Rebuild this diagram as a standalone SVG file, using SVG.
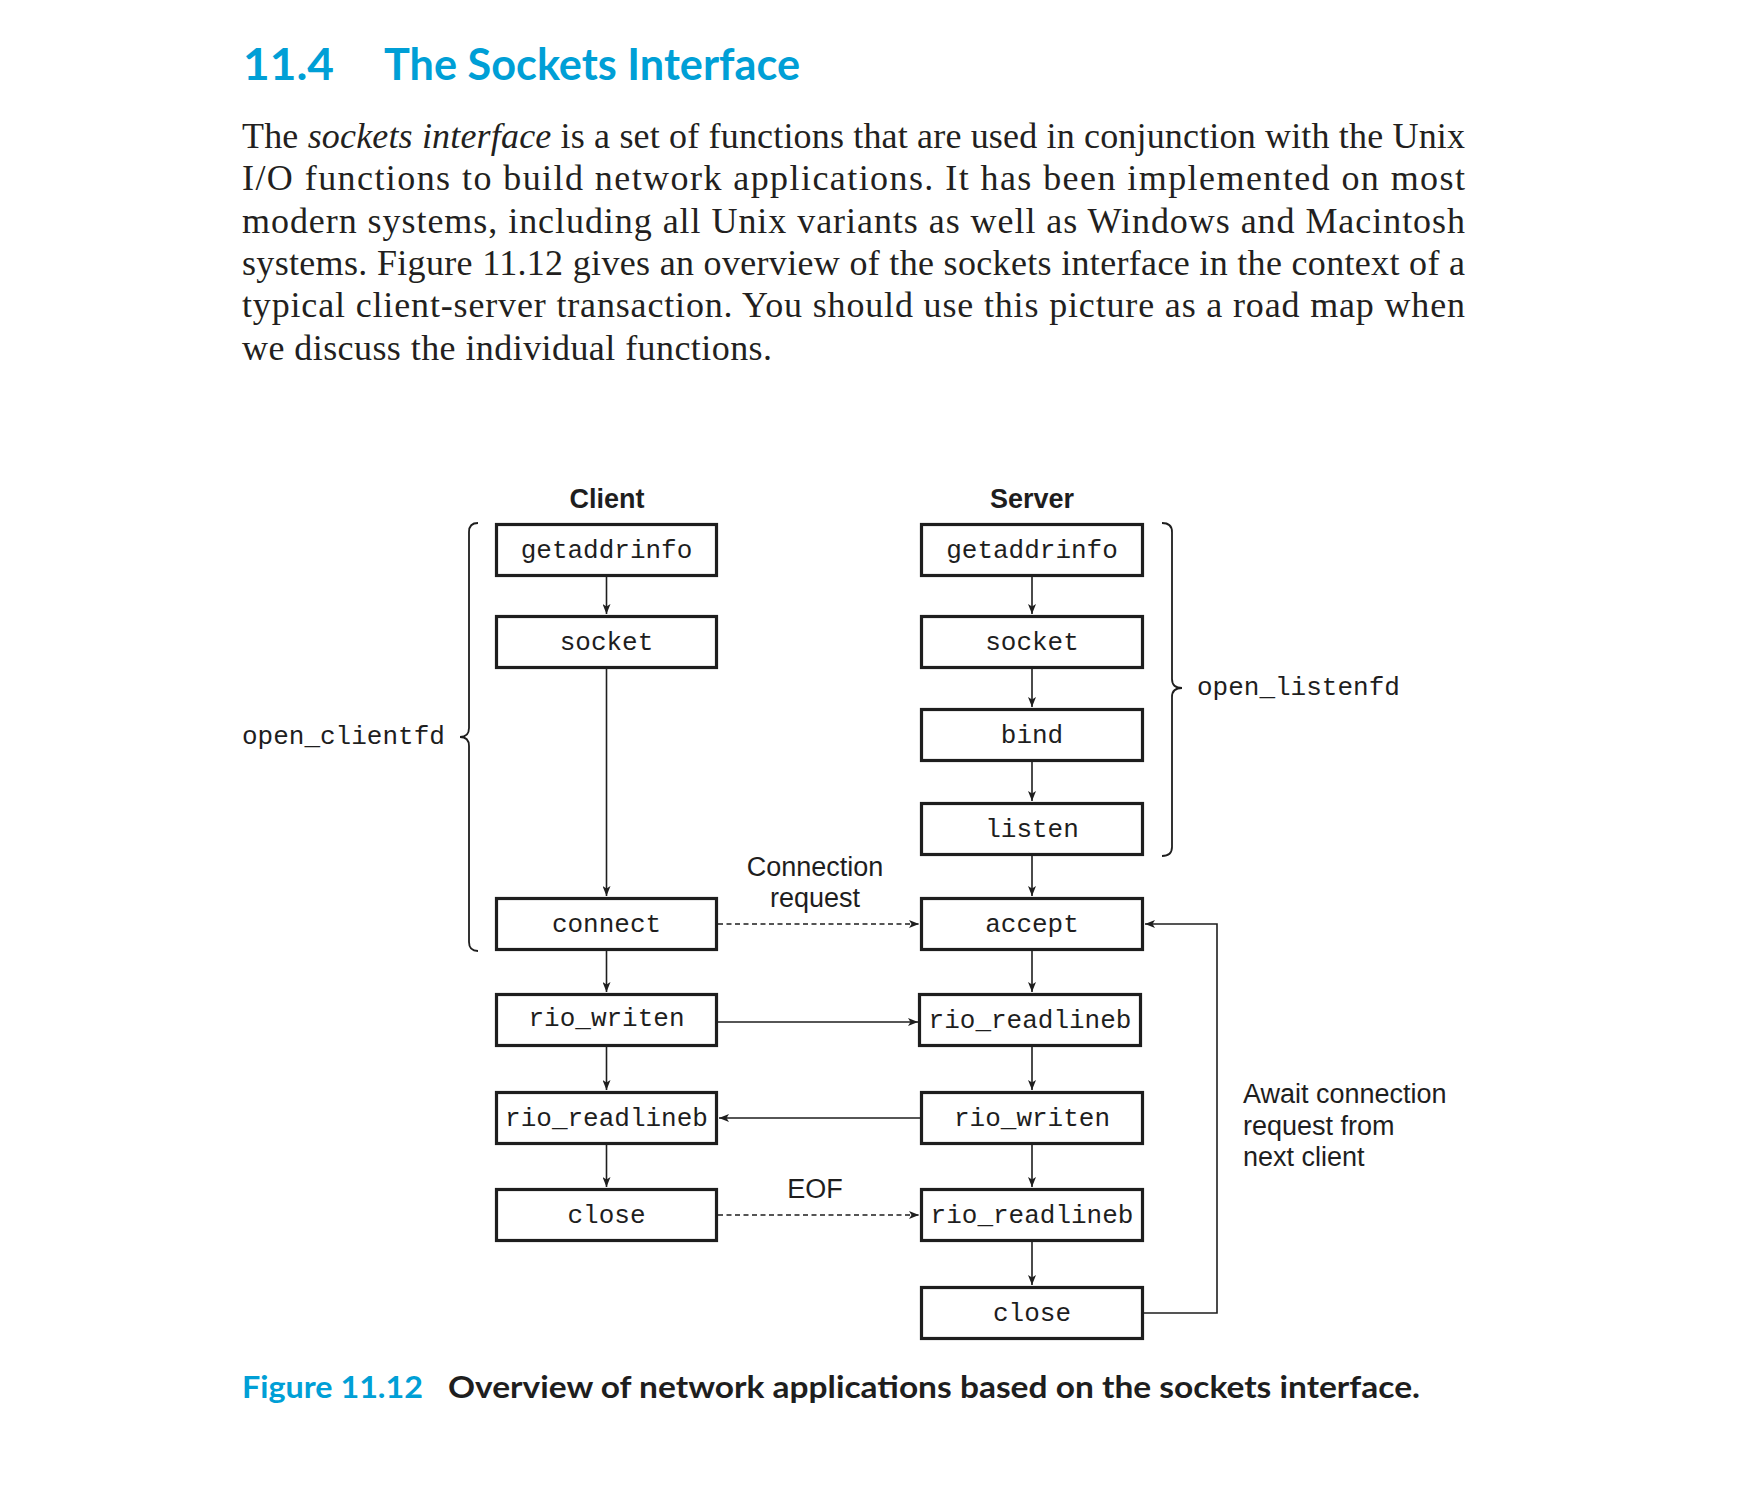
<svg xmlns="http://www.w3.org/2000/svg" width="1746" height="1488" viewBox="0 0 1746 1488">
<style>
.bg{fill:#ffffff}
.title{font-family:Lato,"Open Sans","Liberation Sans",sans-serif;font-weight:bold;fill:#009fd6}
.body{font-family:"Liberation Serif","Times New Roman",serif;font-size:36px;fill:#231f20}
.cap{font-family:Lato,"Open Sans","Liberation Sans",sans-serif;font-weight:bold;font-size:30px}
.box{fill:#ffffff;stroke:#1e1e1e;stroke-width:3.2}
.mono{font-family:"Liberation Mono","Courier New",monospace;font-size:26px;fill:#1e1e1e;text-anchor:middle}
.lbl{font-family:"Liberation Sans",Arial,sans-serif;font-size:27px;fill:#1e1e1e}
.hdr{font-family:"Liberation Sans",Arial,sans-serif;font-size:27px;font-weight:bold;fill:#1e1e1e;text-anchor:middle}
.ln{fill:none;stroke:#1e1e1e;stroke-width:1.6}
.dash{stroke-dasharray:5,3.5}
.brace{fill:none;stroke:#1e1e1e;stroke-width:1.8}
</style>
<defs>
<marker id="ah" viewBox="0 0 10 8" refX="10" refY="4" markerWidth="10" markerHeight="8" markerUnits="userSpaceOnUse" orient="auto">
<path d="M0,0 L10,4 L0,8 L2.5,4 z" fill="#1e1e1e"/>
</marker>
</defs>
<rect class="bg" x="0" y="0" width="1746" height="1488"/>

<g id="heading">
<text class="title" x="243" y="80" font-size="44" textLength="91" lengthAdjust="spacingAndGlyphs">11.4</text>
<text class="title" x="384" y="80" font-size="44" textLength="416" lengthAdjust="spacingAndGlyphs">The Sockets Interface</text>
</g>

<g id="paragraph">
<text class="body" x="242" y="148" textLength="1223" lengthAdjust="spacing">The <tspan font-style="italic">sockets interface</tspan> is a set of functions that are used in conjunction with the Unix</text>
<text class="body" x="242" y="190" textLength="1223" lengthAdjust="spacing">I/O functions to build network applications. It has been implemented on most</text>
<text class="body" x="242" y="233" textLength="1223" lengthAdjust="spacing">modern systems, including all Unix variants as well as Windows and Macintosh</text>
<text class="body" x="242" y="275" textLength="1223" lengthAdjust="spacing">systems. Figure 11.12 gives an overview of the sockets interface in the context of a</text>
<text class="body" x="242" y="317" textLength="1223" lengthAdjust="spacing">typical client-server transaction. You should use this picture as a road map when</text>
<text class="body" x="242" y="360" textLength="530" lengthAdjust="spacing">we discuss the individual functions.</text>
</g>

<g id="headers">
<text class="hdr" x="607" y="508">Client</text>
<text class="hdr" x="1032" y="508">Server</text>
</g>

<g id="connectors">
<line class="ln" x1="606.5" y1="577" x2="606.5" y2="614" marker-end="url(#ah)"/>
<line class="ln" x1="606.5" y1="669" x2="606.5" y2="896" marker-end="url(#ah)"/>
<line class="ln" x1="606.5" y1="951" x2="606.5" y2="992" marker-end="url(#ah)"/>
<line class="ln" x1="606.5" y1="1047" x2="606.5" y2="1090" marker-end="url(#ah)"/>
<line class="ln" x1="606.5" y1="1145" x2="606.5" y2="1187" marker-end="url(#ah)"/>
<line class="ln" x1="1032" y1="577" x2="1032" y2="614" marker-end="url(#ah)"/>
<line class="ln" x1="1032" y1="669" x2="1032" y2="707" marker-end="url(#ah)"/>
<line class="ln" x1="1032" y1="762" x2="1032" y2="801" marker-end="url(#ah)"/>
<line class="ln" x1="1032" y1="856" x2="1032" y2="896" marker-end="url(#ah)"/>
<line class="ln" x1="1032" y1="951" x2="1032" y2="992" marker-end="url(#ah)"/>
<line class="ln" x1="1032" y1="1047" x2="1032" y2="1090" marker-end="url(#ah)"/>
<line class="ln" x1="1032" y1="1145" x2="1032" y2="1187" marker-end="url(#ah)"/>
<line class="ln" x1="1032" y1="1242" x2="1032" y2="1285" marker-end="url(#ah)"/>
<line class="ln dash" x1="718" y1="924" x2="919" y2="924" marker-end="url(#ah)"/>
<line class="ln" x1="718" y1="1022" x2="918" y2="1022" marker-end="url(#ah)"/>
<line class="ln" x1="920" y1="1118" x2="719" y2="1118" marker-end="url(#ah)"/>
<line class="ln dash" x1="718" y1="1215" x2="919" y2="1215" marker-end="url(#ah)"/>
<polyline class="ln" points="1144,1313 1217,1313 1217,924 1145,924" marker-end="url(#ah)"/>
</g>

<g id="braces">
<path class="brace" d="M478,523 Q469,523 469,532 L469,728 Q469,737 460,737 Q469,737 469,746 L469,942 Q469,951 478,951"/>
<path class="brace" d="M1162,523 Q1172,523 1172,532 L1172,679 Q1172,688 1182,688 Q1172,688 1172,697 L1172,847 Q1172,856 1162,856"/>
<text class="mono" x="242" y="744" style="text-anchor:start">open_clientfd</text>
<text class="mono" x="1197" y="695" style="text-anchor:start">open_listenfd</text>
</g>

<g id="c-getaddrinfo"><rect class="box" x="496.5" y="524.5" width="220" height="51"/><text class="mono" x="606.5" y="558">getaddrinfo</text></g>
<g id="c-socket"><rect class="box" x="496.5" y="616.5" width="220" height="51"/><text class="mono" x="606.5" y="650">socket</text></g>
<g id="c-connect"><rect class="box" x="496.5" y="898.5" width="220" height="51"/><text class="mono" x="606.5" y="932">connect</text></g>
<g id="c-rio_writen"><rect class="box" x="496.5" y="994.5" width="220" height="51"/><text class="mono" x="606.5" y="1026">rio_writen</text></g>
<g id="c-rio_readlineb"><rect class="box" x="496.5" y="1092.5" width="220" height="51"/><text class="mono" x="606.5" y="1126">rio_readlineb</text></g>
<g id="c-close"><rect class="box" x="496.5" y="1189.5" width="220" height="51"/><text class="mono" x="606.5" y="1223">close</text></g>

<g id="s-getaddrinfo"><rect class="box" x="921.5" y="524.5" width="221" height="51"/><text class="mono" x="1032" y="558">getaddrinfo</text></g>
<g id="s-socket"><rect class="box" x="921.5" y="616.5" width="221" height="51"/><text class="mono" x="1032" y="650">socket</text></g>
<g id="s-bind"><rect class="box" x="921.5" y="709.5" width="221" height="51"/><text class="mono" x="1032" y="743">bind</text></g>
<g id="s-listen"><rect class="box" x="921.5" y="803.5" width="221" height="51"/><text class="mono" x="1032" y="837">listen</text></g>
<g id="s-accept"><rect class="box" x="921.5" y="898.5" width="221" height="51"/><text class="mono" x="1032" y="932">accept</text></g>
<g id="s-rio_readlineb1"><rect class="box" x="919.5" y="994.5" width="221" height="51"/><text class="mono" x="1030" y="1028">rio_readlineb</text></g>
<g id="s-rio_writen"><rect class="box" x="921.5" y="1092.5" width="221" height="51"/><text class="mono" x="1032" y="1126">rio_writen</text></g>
<g id="s-rio_readlineb2"><rect class="box" x="921.5" y="1189.5" width="221" height="51"/><text class="mono" x="1032" y="1223">rio_readlineb</text></g>
<g id="s-close"><rect class="box" x="921.5" y="1287.5" width="221" height="51"/><text class="mono" x="1032" y="1321">close</text></g>

<g id="labels">
<text class="lbl" x="815" y="876" text-anchor="middle">Connection</text>
<text class="lbl" x="815" y="907" text-anchor="middle">request</text>
<text class="lbl" x="815" y="1198" text-anchor="middle">EOF</text>
<text class="lbl" x="1243" y="1103">Await connection</text>
<text class="lbl" x="1243" y="1135">request from</text>
<text class="lbl" x="1243" y="1166">next client</text>
</g>

<g id="caption">
<text class="cap" x="242" y="1398" fill="#009fd6" textLength="181" lengthAdjust="spacingAndGlyphs">Figure 11.12</text>
<text class="cap" x="448" y="1398" fill="#1e1e1e" textLength="972" lengthAdjust="spacingAndGlyphs">Overview of network applications based on the sockets interface.</text>
</g>
</svg>
